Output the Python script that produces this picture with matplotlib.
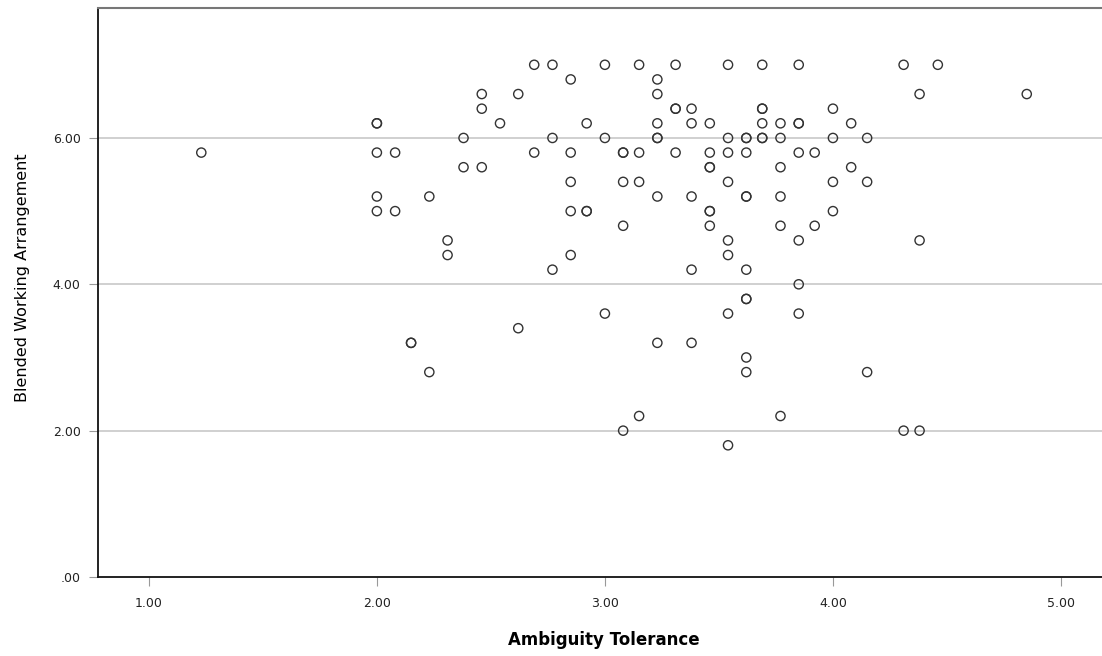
import matplotlib
matplotlib.use("Agg")
import matplotlib.pyplot as plt

x_vals = [
    2.69, 2.77, 3.00, 3.15, 3.31, 3.54, 3.69, 3.85, 4.31, 4.46,
    2.85, 3.23,
    2.46, 2.62, 3.23, 4.38, 4.85,
    2.46, 3.31, 3.31, 3.38, 3.69, 3.69, 4.00,
    2.00, 2.00, 2.54, 2.92, 3.23, 3.38, 3.46, 3.69, 3.77, 3.85, 3.85, 4.08,
    2.38, 2.77, 3.00, 3.23, 3.23, 3.54, 3.62, 3.62, 3.69, 3.69, 3.77, 4.00, 4.15,
    1.23, 2.00, 2.08, 2.69, 2.85, 3.08, 3.08, 3.15, 3.31, 3.46, 3.54, 3.62, 3.85, 3.92,
    2.38, 2.46, 3.46, 3.46, 3.77, 4.08,
    2.85, 3.08, 3.15, 3.54, 4.00, 4.15,
    2.00, 2.23, 3.23, 3.38, 3.62, 3.62, 3.77,
    2.00, 2.08, 2.85, 2.92, 2.92, 3.46, 3.46, 4.00,
    3.08, 3.46, 3.77, 3.92,
    2.31, 3.54, 3.85, 4.38,
    2.31, 2.85, 3.54,
    2.77, 3.38, 3.62,
    3.85,
    3.62, 3.62,
    3.00, 3.54, 3.85,
    2.62,
    2.15, 2.15, 3.23, 3.38,
    3.62,
    2.23, 3.62, 4.15,
    3.15, 3.77,
    3.08, 4.31, 4.38,
    3.54,
]
y_vals = (
    [7.0] * 10 + [6.8] * 2 + [6.6] * 5 + [6.4] * 7 + [6.2] * 12 + [6.0] * 13
    + [5.8] * 14 + [5.6] * 6 + [5.4] * 6 + [5.2] * 7 + [5.0] * 8 + [4.8] * 4
    + [4.6] * 4 + [4.4] * 3 + [4.2] * 3 + [4.0] * 1 + [3.8] * 2 + [3.6] * 3
    + [3.4] * 1 + [3.2] * 4 + [3.0] * 1 + [2.8] * 3 + [2.2] * 2 + [2.0] * 3
    + [1.8] * 1
)

x_ticks = [1.0, 2.0, 3.0, 4.0, 5.0]
x_tick_labels = ["1.00", "2.00", "3.00", "4.00", "5.00"]
y_ticks = [0.0, 2.0, 4.0, 6.0]
y_tick_labels = [".00", "2.00", "4.00", "6.00"]

plt.rcParams['font.family'] = ['DejaVu Sans']

fig = plt.figure(figsize=(11.02, 6.56), dpi=100)
ax = fig.add_axes([98 / 1102, 1 - 577 / 656, 1 - 98 / 1102, (577 - 8) / 656])

ax.set_xlim(0.777, 5.18)
ax.set_ylim(0, 7.776)

for gy in [2.0, 4.0, 6.0]:
    ax.axhline(gy, color="#c8c8c8", linewidth=1.2, zorder=0)

ax.scatter(x_vals, y_vals, s=44, facecolors="none", edgecolors="#333333",
           linewidths=1.0, zorder=3)

ax.set_xticks(x_ticks)
ax.set_xticklabels(x_tick_labels, fontsize=9, color="#222222")
ax.set_yticks(y_ticks)
ax.set_yticklabels(y_tick_labels, fontsize=9, color="#222222")
ax.tick_params(axis="x", length=6.5, width=0.8, color="#999999", pad=8)
ax.tick_params(axis="y", length=6.5, width=0.8, color="#999999", pad=6)

for side in ["left", "bottom"]:
    ax.spines[side].set_color("#111111")
    ax.spines[side].set_linewidth(1.3)
ax.spines["top"].set_color("#777777")
ax.spines["top"].set_linewidth(1.5)
ax.spines["right"].set_visible(False)

ax.set_xlabel("Ambiguity Tolerance", fontsize=12, fontweight="bold")
ax.xaxis.set_label_coords((604 - 98) / 1004, (577 - 640) / 569)
ax.xaxis.label.set_va("center")
ax.set_ylabel("Blended Working Arrangement", fontsize=11.5)
ax.yaxis.set_label_coords((23 - 98) / 1004, (577 - 278) / 569)
ax.yaxis.label.set_va("center")

fig.savefig("out.png", dpi=100)
